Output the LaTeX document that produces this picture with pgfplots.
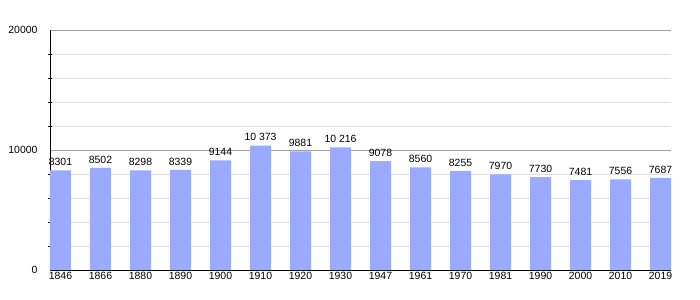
\documentclass[border=0pt]{standalone}
\usepackage{pgfplots}
\pgfplotsset{compat=1.18}
\usepackage{fontspec}
\setmainfont{Liberation Sans}
\definecolor{barblue}{RGB}{153,170,255}
\definecolor{majgrid}{RGB}{160,160,160}
\definecolor{mingrid}{RGB}{221,221,221}
\begin{document}
\begin{tikzpicture}
\useasboundingbox (-50bp,-30bp) rectangle (650bp,270bp);
\begin{axis}[
  at={(0,0)}, anchor=south west,
  scale only axis,
  width=621bp, height=240bp,
  xmin=-0.2625, xmax=15.2625,
  ymin=0, ymax=20000,
  axis x line*=bottom,
  axis y line*=left,
  x axis line style={black, line width=1pt},
  y axis line style={black, line width=1pt},
  xtick=data,
  xticklabels={1846,1866,1880,1890,1900,1910,1920,1930,1947,1961,1970,1981,1990,2000,2010,2019},
  xtick style={draw=none},
  ytick={0,10000,20000},
  minor y tick num=4,
  ymajorgrids, yminorgrids,
  major grid style={majgrid, line width=0.8pt},
  minor grid style={mingrid, line width=0.6pt},
  tick align=center,
  major tick length=0pt,
  minor tick length=4bp,
  minor tick style={black, line width=0.6pt},
  scaled y ticks=false,
  /pgf/number format/1000 sep={},
  /pgf/number format/assume math mode=true,
  tick label style={font=\fontsize{10.5}{12}\selectfont},
  yticklabel style={xshift=-9bp},
  xticklabel style={yshift=1bp},
  ybar, bar width=21bp,
  nodes near coords,
  point meta=explicit symbolic,
  every node near coord/.append style={font=\fontsize{10.5}{12}\selectfont, black, anchor=south, yshift=1bp},
  clip=false,
]
\addplot[fill=barblue, draw=none] coordinates {
(0,8301) [8301]
(1,8502) [8502]
(2,8298) [8298]
(3,8339) [8339]
(4,9144) [9144]
(5,10373) [10 373]
(6,9881) [9881]
(7,10216) [10 216]
(8,9078) [9078]
(9,8560) [8560]
(10,8255) [8255]
(11,7970) [7970]
(12,7730) [7730]
(13,7481) [7481]
(14,7556) [7556]
(15,7687) [7687]
};
\end{axis}
\end{tikzpicture}
\end{document}
